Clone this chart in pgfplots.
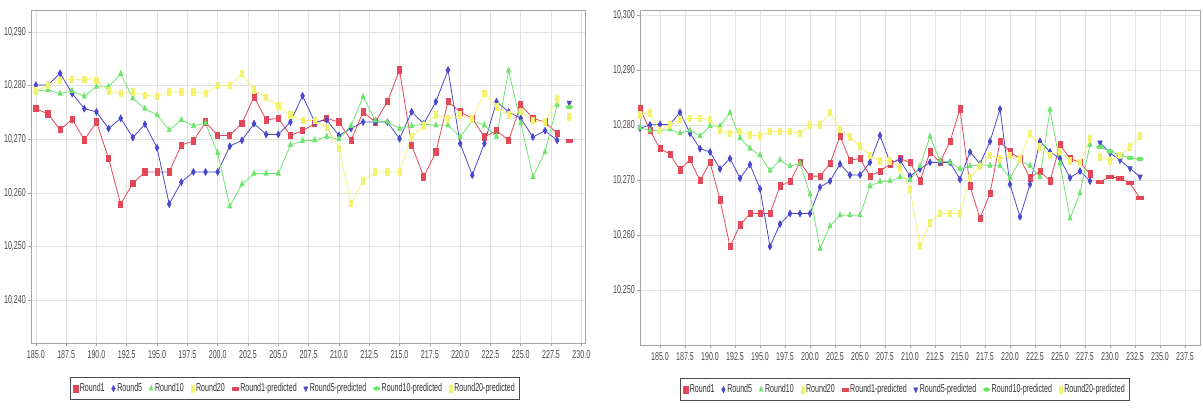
\documentclass[border=0pt]{standalone}
\usepackage{fontspec}
\setmainfont{Liberation Sans}
\usepackage{graphicx}
\usepackage{pgfplots}
\pgfplotsset{compat=1.18}
\usepackage{pgfplotstable}

\definecolor{cR}{RGB}{226,72,88}
\definecolor{cB}{RGB}{72,72,205}
\definecolor{cG}{RGB}{110,228,110}
\definecolor{cY}{RGB}{242,242,110}
\definecolor{gridc}{RGB}{226,226,226}
\definecolor{axc}{RGB}{165,165,165}
\definecolor{legc}{RGB}{75,75,75}

\newcommand{\cn}[1]{\scalebox{0.62}[1]{#1}}

% observed series: x, Round1, Round5, Round10, Round20
\pgfplotstableread{
x r b g y
183 10.2830 10.2794 10.2795 10.2818
184 10.2790 10.2800 10.2790 10.2822
185 10.2757 10.2801 10.2790 10.2790
186 10.2747 10.2801 10.2792 10.2800
187 10.2718 10.2823 10.2785 10.2810
188 10.2737 10.2785 10.2790 10.2812
189 10.2699 10.2757 10.2780 10.2812
190 10.2732 10.2751 10.2798 10.2810
191 10.2664 10.2720 10.2798 10.2790
192 10.2579 10.2739 10.2822 10.2785
193 10.2618 10.2703 10.2776 10.2788
194 10.2639 10.2728 10.2757 10.2782
195 10.2639 10.2684 10.2745 10.2780
196 10.2639 10.2579 10.2717 10.2788
197 10.2689 10.2620 10.2736 10.2788
198 10.2697 10.2639 10.2725 10.2788
199 10.2732 10.2639 10.2730 10.2785
200 10.2707 10.2639 10.2674 10.2800
201 10.2707 10.2687 10.2575 10.2800
202 10.2730 10.2698 10.2616 10.2823
203 10.2779 10.2729 10.2636 10.2792
204 10.2736 10.2709 10.2636 10.2778
205 10.2739 10.2709 10.2636 10.2762
206 10.2707 10.2732 10.2689 10.2745
207 10.2716 10.2781 10.2697 10.2735
208 10.2729 10.2732 10.2698 10.2735
209 10.2739 10.2736 10.2705 10.2722
210 10.2732 10.2707 10.2700 10.2683
211 10.2698 10.2720 10.2725 10.2580
212 10.2751 10.2732 10.2779 10.2622
213 10.2732 10.2732 10.2735 10.2639
214 10.2770 10.2732 10.2732 10.2639
215 10.2829 10.2701 10.2720 10.2639
216 10.2689 10.2751 10.2725 10.2705
217 10.2630 10.2729 10.2728 10.2725
218 10.2676 10.2770 10.2726 10.2745
219 10.2770 10.2829 10.2726 10.2738
220 10.2751 10.2692 10.2704 10.2745
221 10.2739 10.2633 10.2735 10.2738
222 10.2704 10.2692 10.2726 10.2785
223 10.2716 10.2770 10.2705 10.2760
224 10.2698 10.2751 10.2828 10.2745
225 10.2764 10.2739 10.2730 10.2752
226 10.2739 10.2704 10.2630 10.2735
227 10.2732 10.2716 10.2676 10.2732
228 10.2711 10.2698 10.2764 10.2775
}\obs

% predicted series
\pgfplotstableread{
x r b g y
229 10.2697 10.2768 10.2760 10.2742
230 10.2706 10.2749 10.2752 10.2735
231 10.2703 10.2736 10.2745 10.2745
232 10.2694 10.2721 10.2740 10.2760
233 10.2667 10.2706 10.2738 10.2780
}\pred

\pgfplotsset{
  jf/.style={
    scale only axis,
    axis line style={draw=axc, line width=0.9bp},
    grid=major,
    major grid style={draw=gridc, line width=0.6bp},
    tick style={draw=axc, line width=0.6bp},
    tick align=outside,
    major tick length=3bp,
    xtick pos=left, ytick pos=left,
    tick label style={font=\fontsize{11.5}{13}\selectfont, xscale=0.62, text=black!72},
    xticklabel style={yshift=-1bp, /pgf/number format/.cd, fixed, fixed zerofill, precision=1, 1000 sep={}, assume math mode=true},
    yticklabel style={/pgf/number format/.cd, use comma, fixed, fixed zerofill, precision=3, 1000 sep={}, assume math mode=true},
    legend columns=8,
    legend style={font=\fontsize{11.5}{13}\selectfont, text=black!80, draw=legc, line width=1.3bp,
      inner xsep=3bp, inner ysep=4bp,
      /tikz/every even column/.append style={column sep=5bp},
      /tikz/every odd column/.append style={column sep=0bp}},
    legend image code/.code={\draw[only marks, line width=0.4bp] plot coordinates {(0.1cm,0cm)};},
    every axis plot/.append style={line width=0.8bp, mark size=3.2bp},
  },
  sR/.style={color=cR, mark=square*, mark options={xscale=0.65}},
  sB/.style={color=cB, mark=diamond*, mark options={xscale=0.75}},
  sG/.style={color=cG, mark=triangle*, mark options={xscale=0.7}},
  sY/.style={color=cY, mark=square*, mark options={xscale=0.5}},
  pR/.style={color=cR, mark=square*, mark options={yscale=0.5}},
  pB/.style={color=cB, mark=triangle*, mark options={rotate=180, xscale=0.75}},
  pG/.style={color=cG, mark=*, mark options={yscale=0.6}},
  pY/.style={color=cY, mark=square*, mark options={xscale=0.5}},
}

\begin{document}
\begin{tikzpicture}
\useasboundingbox (0,0) rectangle (1203bp,419bp);

% ---------- left chart ----------
\begin{axis}[jf,
  at={(31bp,76bp)}, anchor=south west,
  width=554bp, height=333bp,
  xmin=184.6, xmax=230.3, ymin=10.232, ymax=10.2941,
  xtick={185,187.5,...,230}, ytick={10.24,10.25,...,10.295},
  legend style={at={(0.0704,-0.102)}, anchor=north west},
  legend entries={\cn{Round1},\cn{Round5},\cn{Round10},\cn{Round20},\cn{Round1-predicted},\cn{Round5-predicted},\cn{Round10-predicted},\cn{Round20-predicted}},
]
\addplot[sR, restrict x to domain=185:228] table[x=x,y=r] {\obs};
\addplot[sB, restrict x to domain=185:228] table[x=x,y=b] {\obs};
\addplot[sG, restrict x to domain=185:228] table[x=x,y=g] {\obs};
\addplot[sY, restrict x to domain=185:228] table[x=x,y=y] {\obs};
\addplot[pR, restrict x to domain=229:229.5] table[x=x,y=r] {\pred};
\addplot[pB, restrict x to domain=229:229.5] table[x=x,y=b] {\pred};
\addplot[pG, restrict x to domain=229:229.5] table[x=x,y=g] {\pred};
\addplot[pY, restrict x to domain=229:229.5] table[x=x,y=y] {\pred};
\end{axis}

% ---------- right chart ----------
\begin{axis}[jf,
  at={(640bp,74bp)}, anchor=south west,
  width=560bp, height=335bp,
  xmin=183, xmax=239, ymin=10.240, ymax=10.3009,
  xtick={185,187.5,...,237.5}, ytick={10.25,10.26,...,10.305},
  legend style={at={(0.0714,-0.0985)}, anchor=north west},
  legend entries={\cn{Round1},\cn{Round5},\cn{Round10},\cn{Round20},\cn{Round1-predicted},\cn{Round5-predicted},\cn{Round10-predicted},\cn{Round20-predicted}},
]
\addplot[sR] table[x=x,y=r] {\obs};
\addplot[sB] table[x=x,y=b] {\obs};
\addplot[sG] table[x=x,y=g] {\obs};
\addplot[sY] table[x=x,y=y] {\obs};
\addplot[pR] table[x=x,y=r] {\pred};
\addplot[pB] table[x=x,y=b] {\pred};
\addplot[pG] table[x=x,y=g] {\pred};
\addplot[pY] table[x=x,y=y] {\pred};
\end{axis}
\end{tikzpicture}
\end{document}
